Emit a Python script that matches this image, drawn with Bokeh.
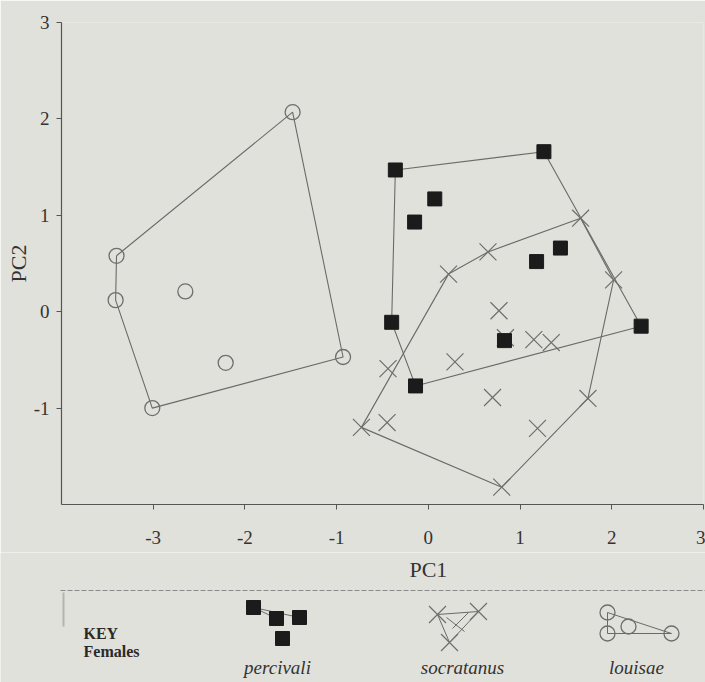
from bokeh.plotting import figure
from bokeh.layouts import column
from bokeh.models import Range1d, FixedTicker
from bokeh.core.properties import value
from bokeh.embed import file_html
from bokeh.resources import INLINE

# ---------------- data (PC scores) ----------------
louisae_x = [-1.48, -3.40, -3.41, -2.65, -2.21, -3.01, -0.93]
louisae_y = [2.07, 0.58, 0.12, 0.21, -0.53, -1.00, -0.47]
louisae_hull = [1, 0, 6, 5, 2, 1]

percivali_x = [-0.36, 1.26, 0.07, -0.15, 1.44, 1.18, -0.40, 2.32, 0.83, -0.14]
percivali_y = [1.47, 1.66, 1.17, 0.93, 0.66, 0.52, -0.11, -0.15, -0.30, -0.77]
percivali_hull = [0, 1, 7, 9, 6, 0]

socratanus_x = [1.66, 0.65, 0.22, 2.02, 0.77, 1.15, 1.34, 0.29, -0.44, 1.74,
                0.70, -0.45, 1.19, -0.73, 0.80, 0.84]
socratanus_y = [0.97, 0.62, 0.39, 0.33, 0.01, -0.29, -0.32, -0.52, -0.59, -0.90,
                -0.89, -1.15, -1.21, -1.20, -1.82, -0.27]
socratanus_hull = [13, 2, 1, 0, 3, 9, 14, 13]

x_ticks = [-3, -2, -1, 0, 1, 2, 3]
x_tick_labels = ["-3", "-2", "-1", "0", "1", "2", "3"]
y_ticks = [-1, 0, 1, 2, 3]
y_tick_labels = ["-1", "0", "1", "2", "3"]

x_title = "PC1"
y_title = "PC2"
species_names = ["percivali", "socratanus", "louisae"]
key_title = ["KEY", "Females"]

# ---------------- style ----------------
BG = "#e0e1da"
LINE = "#6a6a6a"
MARK = "#6e6e6e"
SQ = "#1b1b1b"
TXT = "#333333"
FONT = "Liberation Serif"

X0, X1 = -4, 3
FRAME_L, FRAME_R = 61, 703

p = figure(width=705, height=552, x_range=Range1d(X0, X1), y_range=Range1d(-2, 3),
           output_backend="svg", toolbar_location=None,
           min_border_left=FRAME_L, min_border_right=705 - FRAME_R,
           min_border_top=22, min_border_bottom=48)
p.frame_align = False
p.background_fill_color = BG
p.border_fill_color = BG
p.outline_line_color = None
p.grid.visible = False

for ax in (p.xaxis[0], p.yaxis[0]):
    ax.axis_line_color = "#555555"
    ax.axis_line_width = 1.2
    ax.major_tick_line_color = "#555555"
    ax.major_tick_in = 0
    ax.major_tick_out = 5
    ax.minor_tick_line_color = None
    ax.major_label_text_font = FONT
    ax.major_label_text_font_size = "19px"
    ax.major_label_text_color = TXT
    ax.axis_label_text_font = FONT
    ax.axis_label_text_font_size = "22px"
    ax.axis_label_text_font_style = "normal"
    ax.axis_label_text_color = TXT

p.xaxis.ticker = FixedTicker(ticks=x_ticks)
p.xaxis.major_label_overrides = dict(zip(x_ticks, x_tick_labels))
p.yaxis.ticker = FixedTicker(ticks=y_ticks)
p.yaxis.major_label_overrides = dict(zip(y_ticks, y_tick_labels))
p.yaxis.axis_label = y_title
p.xaxis.major_label_standoff = 21
p.yaxis.major_label_standoff = 7
p.yaxis.axis_label_standoff = 0


def hull(xs, ys, idx):
    return [xs[i] for i in idx], [ys[i] for i in idx]

for xs, ys, idx in ((louisae_x, louisae_y, louisae_hull),
                    (percivali_x, percivali_y, percivali_hull),
                    (socratanus_x, socratanus_y, socratanus_hull)):
    hx, hy = hull(xs, ys, idx)
    p.line(hx, hy, line_color=LINE, line_width=1.1)

p.scatter(louisae_x, louisae_y, marker="circle", size=15, fill_color=None,
          line_color=MARK, line_width=1.3)
p.scatter(socratanus_x, socratanus_y, marker="x", size=24, line_color=MARK, line_width=1.2)
p.scatter(percivali_x, percivali_y, marker="square", size=14, fill_color=SQ,
          line_color=SQ)

# ---------------- lower panel: x title + key (page-pixel coordinates) ----------------
k = figure(width=705, height=130, x_range=Range1d(0, 705), y_range=Range1d(682, 552),
           output_backend="svg", toolbar_location=None, min_border=0,
           x_axis_location=None, y_axis_location=None)
k.frame_align = False
k.background_fill_color = BG
k.border_fill_color = BG
k.outline_line_color = None
k.grid.visible = False

# x-axis title centred under PC1 = 0, as in the original
pc1_px = FRAME_L + (0 - X0) / (X1 - X0) * (FRAME_R - FRAME_L)
k.text([pc1_px], [569], text=[x_title], text_font=value(FONT), text_font_size="22px",
       text_color=TXT, text_align="center", text_baseline="middle")

k.line([60, 705], [590, 590], line_color="#8a8a8a", line_width=1, line_dash="5 2")
k.line([63, 63], [592, 626], line_color="#b5b5b0", line_width=2)

k.text([83], [633], text=[key_title[0]], text_font=value(FONT), text_font_size="16px",
       text_font_style="bold", text_color="#2a2a2a", text_baseline="middle")
k.text([83], [651], text=[key_title[1]], text_font=value(FONT), text_font_size="16px",
       text_font_style="bold", text_color="#2a2a2a", text_baseline="middle")

k.text([277, 462, 636], [667, 667, 667], text=species_names, text_font=value(FONT),
       text_font_size="19px", text_font_style="italic", text_color=TXT,
       text_align="center", text_baseline="middle")

# key samples (legend glyph templates)
kp_x = [253, 276, 299, 282]
kp_y = [607, 618, 617, 638]
k.multi_line([[kp_x[0], kp_x[2]], [kp_x[0], kp_x[1]]], [[kp_y[0], kp_y[2]], [kp_y[0], kp_y[1]]],
             line_color=LINE, line_width=1)
k.scatter(kp_x, kp_y, marker="square", size=14, fill_color=SQ, line_color=SQ)

ks_x = [437, 478, 449]
ks_y = [614, 611, 642]
k.line([ks_x[0], ks_x[1], ks_x[2], ks_x[0]], [ks_y[0], ks_y[1], ks_y[2], ks_y[0]],
       line_color=LINE, line_width=1)
k.multi_line([[446, 464], [452, 468]], [[617, 631], [628, 612]], line_color=LINE, line_width=1)
k.scatter(ks_x, ks_y, marker="x", size=24, line_color=MARK, line_width=1.2)

kl_x = [607, 607, 628, 671]
kl_y = [612, 633, 626, 633]
k.line([kl_x[0], kl_x[3], kl_x[1], kl_x[0]], [kl_y[0], kl_y[3], kl_y[1], kl_y[0]],
       line_color=LINE, line_width=1)
k.scatter(kl_x, kl_y, marker="circle", size=15, fill_color=None, line_color=MARK, line_width=1.3)

layout = column(p, k, spacing=0)
open("out.html", "w").write(file_html(layout, INLINE))
